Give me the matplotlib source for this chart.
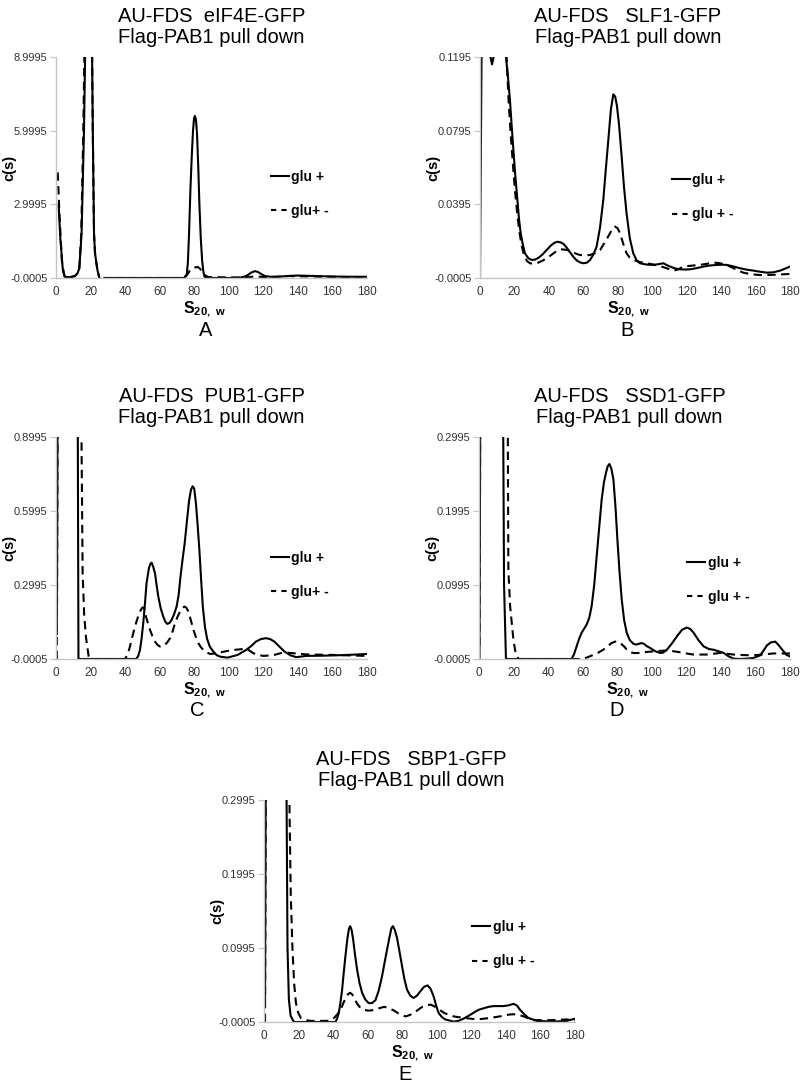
import matplotlib
matplotlib.use('Agg')
import matplotlib.pyplot as plt
from matplotlib.lines import Line2D

plt.rcParams['font.family'] = ['Liberation Sans', 'DejaVu Sans']
plt.rcParams['mathtext.fontset'] = 'custom'
plt.rcParams['mathtext.bf'] = 'Liberation Sans:bold'
plt.rcParams['mathtext.rm'] = 'Liberation Sans'

# ---- data: (s20,w , c(s)) pairs ----
# A: eIF4E-GFP
a_plus = [(1.5, 3.0), (2.5, 1.6), (4, 0.3), (5, 0.05), (8, 0.03), (11, 0.08), (12.5, 0.2), (13.5, 0.4), (14.8, 1.8),
          (16.2, 6.0), (17.5, 12), (20.5, 12), (21.3, 6.0), (22, 1.8), (22.6, 1.0), (23.9, 0.35), (25.1, 0.0),
          (26.5, -0.5), (28, 0.0), (74, 0.0), (75.6, 0.1), (76.3, 0.6), (77, 1.8), (77.8, 3.6), (78.6, 5.0),
          (79.3, 6.0), (79.9, 6.5), (80.4, 6.6), (81, 6.45), (81.6, 5.9), (82.3, 4.6), (83, 3.0), (83.8, 1.6),
          (84.6, 0.7), (85.3, 0.25), (86, 0.05), (90, 0.0), (100, 0.0), (106, 0.01), (109, 0.05), (111, 0.12),
          (113, 0.22), (115.2, 0.28), (117, 0.24), (119, 0.15), (121, 0.08), (124, 0.05), (128, 0.05), (132, 0.07),
          (136, 0.09), (140, 0.1), (145, 0.09), (150, 0.08), (160, 0.06), (170, 0.05), (180, 0.05)]
a_minus = [(1, 4.3), (2, 2.6), (3.5, 0.6), (5, 0.05), (8, 0.03), (11, 0.08), (12.5, 0.2), (13.5, 0.4), (14.6, 1.8),
           (15.8, 6.0), (17, 12), (20.5, 12), (21.3, 6.0), (22, 1.8), (22.6, 1.0), (23.9, 0.35), (25.1, 0.0),
           (26.5, -0.5), (28, 0.0), (72, 0.0), (74, 0.02), (76, 0.15), (77.5, 0.3), (79, 0.4), (80.5, 0.43),
           (82, 0.45), (83.3, 0.38), (84.5, 0.27), (86, 0.12), (88, 0.04), (95, 0.03), (105, 0.02), (110, 0.03),
           (115, 0.06), (120, 0.04), (125, 0.04), (130, 0.06), (135, 0.08), (140, 0.07), (150, 0.06), (160, 0.05),
           (170, 0.04), (180, 0.04)]

# B: SLF1-GFP
b_plus = [(0, -0.0005), (0.6, 0.08), (1.2, 0.16), (5, 0.16), (6, 0.12), (7, 0.1155), (8, 0.12), (9, 0.16), (14, 0.16),
          (15.1, 0.1195), (16.3, 0.108), (17.4, 0.096), (18.4, 0.082), (19.4, 0.069), (20.5, 0.055), (21.7, 0.042),
          (22.6, 0.032), (23.6, 0.024), (24.8, 0.018), (26.1, 0.0129), (28, 0.0103), (30, 0.0093), (32, 0.0095),
          (34, 0.0105), (36, 0.012), (38.7, 0.0147), (41, 0.017), (43, 0.0185), (45, 0.0192), (47, 0.0188),
          (48.5, 0.018), (50.5, 0.0158), (52.5, 0.0132), (54.2, 0.011), (56, 0.0092), (58, 0.008), (60, 0.0075),
          (62, 0.0078), (63.9, 0.0093), (65.8, 0.0122), (67.7, 0.0165), (69.7, 0.027), (71.6, 0.042), (73, 0.058),
          (74.5, 0.0744), (76, 0.091), (77.4, 0.0992), (78.5, 0.098), (79.5, 0.093), (80.7, 0.083), (82.2, 0.066),
          (83.6, 0.049), (85.1, 0.0346), (87, 0.021), (89, 0.0129), (91, 0.009), (92.9, 0.0075), (96.7, 0.0068),
          (100.6, 0.0066), (103.5, 0.007), (106.5, 0.0075), (108.5, 0.0065), (110.4, 0.0057), (113.3, 0.0047),
          (116.2, 0.0042), (119, 0.0041), (122, 0.0042), (126, 0.0049), (129.8, 0.0057), (133.6, 0.0063),
          (137.5, 0.0066), (140.4, 0.0067), (143.3, 0.0066), (147, 0.0058), (151, 0.0048), (155, 0.004),
          (158.8, 0.0035), (162.7, 0.0029), (166.6, 0.0024), (170.4, 0.0026), (174.2, 0.0035), (177, 0.0045),
          (180, 0.0057)]
b_minus = [(14.2, 0.16), (15.4, 0.12), (16.6, 0.096), (17.5, 0.082), (18.5, 0.069), (19.6, 0.055), (20.8, 0.042),
           (21.9, 0.032), (23, 0.0238), (24.2, 0.017), (25.5, 0.012), (27.2, 0.0088), (29, 0.0075), (31, 0.0072),
           (33, 0.0075), (36.5, 0.009), (40, 0.011), (43.5, 0.0135), (47, 0.0151), (50, 0.0148), (53, 0.014),
           (55.5, 0.0128), (58, 0.012), (61, 0.0118), (63.9, 0.012), (66.8, 0.013), (69.7, 0.0147), (72.6, 0.019),
           (75.5, 0.0238), (77, 0.0265), (78.4, 0.0274), (79.9, 0.0265), (81.3, 0.0238), (83.2, 0.018),
           (85.1, 0.0129), (87, 0.0105), (89, 0.0093), (92.8, 0.0082), (96.7, 0.0075), (100.6, 0.0068),
           (104.5, 0.006), (108.4, 0.0048), (112.3, 0.0035), (115.2, 0.0042), (118, 0.0057), (122.9, 0.0062),
           (127.7, 0.0066), (131.6, 0.0072), (135.5, 0.0079), (139.4, 0.0075), (142.3, 0.0068), (145.2, 0.0057),
           (149, 0.004), (152.9, 0.0024), (157.8, 0.0015), (162.6, 0.0011), (170, 0.0012), (180, 0.0017)]

# C: PUB1-GFP
c_plus = [(0.5, 0.1), (1.0, 1.2), (12.5, 1.2), (13.0, -0.0005), (46.3, -0.0005), (47.5, 0.01), (48.6, 0.036),
          (49.5, 0.08), (50.5, 0.145), (51.5, 0.225), (52.4, 0.307), (53.8, 0.368), (54.6, 0.385), (55.3, 0.39),
          (56.2, 0.375), (57.3, 0.347), (58.2, 0.3), (59.2, 0.253), (60.6, 0.205), (62.1, 0.171), (63.3, 0.15),
          (64.4, 0.142), (65.6, 0.145), (66.9, 0.158), (68.3, 0.18), (69.8, 0.212), (71, 0.26), (72, 0.33),
          (73.2, 0.4), (74.5, 0.47), (75.8, 0.56), (77, 0.64), (78.1, 0.685), (79.1, 0.70), (80, 0.69), (81, 0.63),
          (82, 0.54), (83, 0.44), (84, 0.32), (85, 0.21), (86.2, 0.13), (87.5, 0.08), (89, 0.05), (91, 0.03),
          (93, 0.015), (95, 0.009), (99.3, 0.005), (105.1, 0.016), (110, 0.036), (113, 0.052), (115.7, 0.07),
          (118.5, 0.08), (121.5, 0.084), (124, 0.08), (126.4, 0.07), (129, 0.052), (132.2, 0.03), (135.5, 0.015),
          (139, 0.007), (145, 0.012), (155, 0.013), (165, 0.015), (175, 0.018), (180, 0.02)]
c_minus = [(0.5, -0.0005), (1.0, 1.2), (14.4, 1.2), (15.4, 0.35), (16.3, 0.18), (17.3, 0.09), (18.9, 0.01),
           (19.5, -0.0005), (40, -0.0005), (41.5, 0.02), (42.8, 0.05), (44.2, 0.09), (45.7, 0.131), (47.2, 0.165),
           (48.6, 0.192), (49.5, 0.203), (50.2, 0.209), (51, 0.205), (52.1, 0.171), (53.2, 0.145), (54.4, 0.118),
           (55.8, 0.092), (57.3, 0.07), (58.7, 0.057), (60.2, 0.05), (61.6, 0.05), (63.1, 0.057), (64.5, 0.068),
           (66, 0.084), (67.5, 0.112), (68.9, 0.145), (70.3, 0.17), (71.8, 0.192), (73, 0.205), (74.3, 0.212),
           (75.5, 0.207), (76.6, 0.192), (78, 0.158), (79.5, 0.118), (81, 0.088), (82.4, 0.064), (83.8, 0.048),
           (85.3, 0.036), (87.2, 0.026), (89.2, 0.02), (92, 0.022), (95, 0.026), (99, 0.032), (102.6, 0.036),
           (108.4, 0.04), (111, 0.038), (114.2, 0.023), (117, 0.016), (120, 0.012), (125.8, 0.015), (131.6, 0.026),
           (137.3, 0.023), (145, 0.018), (160, 0.016), (170, 0.014), (180, 0.012)]

# D: SSD1-GFP
d_plus = [(0.3, 0.012), (0.8, 0.4), (13.8, 0.4), (14.5, 0.1), (15.6, -0.0005), (53.6, -0.0005), (55, 0.006),
          (56.5, 0.0166), (58, 0.027), (59.4, 0.035), (61, 0.041), (62.3, 0.046), (63.8, 0.055), (65.2, 0.071),
          (66.7, 0.1), (68.1, 0.138), (69.6, 0.178), (71, 0.215), (72.3, 0.238), (73.5, 0.251), (74.5, 0.26),
          (75.5, 0.263), (76.6, 0.257), (77.8, 0.242), (79, 0.205), (80.1, 0.161), (81.3, 0.118), (82.6, 0.08),
          (84, 0.052), (85.5, 0.035), (87.3, 0.025), (89.4, 0.02), (91, 0.019), (92.5, 0.02), (94, 0.021),
          (95.5, 0.02), (97, 0.017), (99, 0.0145), (102, 0.01), (104.8, 0.0077), (106.5, 0.008), (108.7, 0.012),
          (111.5, 0.02), (114.5, 0.03), (117.5, 0.039), (120.3, 0.042), (122.3, 0.04), (124.2, 0.035), (127, 0.025),
          (130, 0.0166), (133, 0.013), (135.8, 0.012), (138.5, 0.01), (141.6, 0.0077), (144.5, 0.003), (147.4, 0.0),
          (151, -0.0005), (155.1, 0.0), (159, 0.001), (162.8, 0.0045), (165, 0.012), (166.7, 0.018), (169, 0.022),
          (171.5, 0.023), (173.5, 0.018), (176.3, 0.0098), (178, 0.005), (180, 0.003)]
d_minus = [(0.3, -0.0005), (0.8, 0.4), (16.5, 0.4), (17, 0.12), (18, 0.071), (19.9, 0.026), (21, 0.01),
           (22.8, -0.0005), (60, -0.0005), (63, 0.002), (66.1, 0.005), (69, 0.008), (71.9, 0.012), (74.5, 0.017),
           (76.7, 0.021), (78.7, 0.023), (80.6, 0.023), (82.3, 0.02), (83.9, 0.0166), (85.6, 0.012), (87.4, 0.0086),
           (90, 0.0075), (93.2, 0.0077), (97, 0.009), (100.9, 0.0098), (104.8, 0.0105), (108.7, 0.011),
           (112.5, 0.01), (116.4, 0.0086), (120, 0.007), (124.1, 0.0055), (131.8, 0.0055), (135.5, 0.0065),
           (139.5, 0.0077), (143, 0.0068), (147.2, 0.0055), (153, 0.0048), (158.8, 0.0045), (164, 0.0055),
           (170.4, 0.007), (180, 0.007)]

# E: SBP1-GFP
e_plus = [(0.6, 0.03), (1.1, 0.4), (12.8, 0.4), (13.6, 0.1), (14.4, 0.03), (15.4, 0.008), (17.3, -0.0005),
          (41.4, -0.0005), (42.3, 0.004), (43.3, 0.012), (44.2, 0.025), (45.2, 0.043), (46.1, 0.065), (47.1, 0.088),
          (48.3, 0.113), (49.2, 0.126), (49.9, 0.129), (50.7, 0.124), (51.6, 0.111), (52.7, 0.09), (53.9, 0.07),
          (55.3, 0.052), (56.8, 0.039), (58.6, 0.03), (60.6, 0.025), (62.5, 0.025), (64.5, 0.029), (66.4, 0.042),
          (68.3, 0.061), (69.8, 0.08), (71.2, 0.097), (72.7, 0.115), (73.7, 0.126), (74.6, 0.129), (75.7, 0.124),
          (77, 0.113), (78.4, 0.095), (79.9, 0.075), (81.3, 0.057), (82.8, 0.043), (84.7, 0.035), (86.6, 0.032),
          (88.5, 0.035), (90.5, 0.041), (92.6, 0.047), (94.7, 0.049), (96.5, 0.044), (98.2, 0.034), (99.6, 0.022),
          (101, 0.012), (103, 0.006), (104.9, 0.003), (109.7, 0.0), (112.5, 0.001), (115.5, 0.004), (118.5, 0.008),
          (121.3, 0.012), (124.2, 0.016), (127.1, 0.018), (130, 0.02), (132.8, 0.021), (135.7, 0.021),
          (138.6, 0.021), (141.5, 0.022), (144.4, 0.024), (146.3, 0.022), (148.2, 0.016), (150.6, 0.01),
          (153, 0.005), (157.9, 0.001), (167.5, 0.0), (175.2, 0.001), (180, 0.004)]
e_minus = [(0.6, -0.0005), (1.1, 0.4), (14.4, 0.4), (14.8, 0.28), (15.5, 0.17), (16.5, 0.097), (17.5, 0.05),
           (18.5, 0.025), (19.8, 0.012), (21.3, 0.005), (24, 0.002), (27.1, 0.001), (36.7, 0.001), (38.7, 0.002),
           (40.6, 0.005), (42.5, 0.01), (44.4, 0.016), (45.9, 0.025), (47.3, 0.032), (48.6, 0.037), (49.8, 0.039),
           (51, 0.037), (52.1, 0.032), (54, 0.024), (56, 0.018), (57.9, 0.016), (59.8, 0.015), (61.8, 0.015),
           (63.7, 0.016), (66.6, 0.018), (69.5, 0.02), (71.4, 0.019), (73.3, 0.017), (75.2, 0.015), (77.2, 0.012),
           (79.6, 0.009), (82, 0.007), (84.4, 0.009), (86.8, 0.012), (89.2, 0.016), (91.6, 0.02), (94, 0.022),
           (96.4, 0.023), (98.3, 0.021), (100.3, 0.018), (102.2, 0.015), (104.1, 0.012), (107, 0.009),
           (109.9, 0.007), (115.7, 0.005), (123.4, 0.003), (127.3, 0.004), (131.1, 0.005), (135, 0.0065),
           (138.8, 0.008), (141.7, 0.0095), (144.6, 0.01), (147.5, 0.009), (150.4, 0.007), (153.3, 0.004),
           (156.2, 0.002), (165.8, 0.002), (175.4, 0.003), (180, 0.001)]

titles = ['AU-FDS  eIF4E-GFP\nFlag-PAB1 pull down',
          'AU-FDS   SLF1-GFP\nFlag-PAB1 pull down',
          'AU-FDS  PUB1-GFP\nFlag-PAB1 pull down',
          'AU-FDS   SSD1-GFP\nFlag-PAB1 pull down',
          'AU-FDS   SBP1-GFP\nFlag-PAB1 pull down']
letters = ['A', 'B', 'C', 'D', 'E']
yticks_all = [[-0.0005, 2.9995, 5.9995, 8.9995],
              [-0.0005, 0.0395, 0.0795, 0.1195],
              [-0.0005, 0.2995, 0.5995, 0.8995],
              [-0.0005, 0.0995, 0.1995, 0.2995],
              [-0.0005, 0.0995, 0.1995, 0.2995]]
minus_labels = ['glu+ -', 'glu + -', 'glu+ -', 'glu + -', 'glu + -']
xticks = list(range(0, 181, 20))

series = [(a_plus, a_minus), (b_plus, b_minus), (c_plus, c_minus), (d_plus, d_minus), (e_plus, e_minus)]

# ---- layout (pixel boxes: left, top, right, bottom) ----
W, H = 800, 1084
boxes = [(56, 57, 367, 278), (480, 57, 790, 278), (56, 437, 367, 659),
         (479, 437, 790, 659), (264, 800, 575, 1022)]
title_dx = [0, -7, 0, -5, -8]
letter_dx = [-6, -8, -14, -18, -14]
legend_pos = [(0.69, 0.38), (0.62, 0.365), (0.69, 0.38), (0.67, 0.355), (0.67, 0.35)]

fig = plt.figure(figsize=(W / 100, H / 100), dpi=100)
dash = (0, (4, 2.6))
spine_col = '#c4c4c4'

for i, (l, t, r, b) in enumerate(boxes):
    ax = fig.add_axes([l / W, 1 - b / H, (r - l) / W, (b - t) / H])
    plus, minus = series[i]
    px, py = zip(*plus)
    mx, my = zip(*minus)
    ax.plot(mx, my, color='black', lw=1.5, linestyle=dash)
    ax.plot(px, py, color='black', lw=1.5)
    yt = yticks_all[i]
    ax.set_xlim(0, 180)
    ax.set_ylim(yt[0], yt[-1])
    ax.set_xticks(xticks)
    ax.set_yticks(yt)
    ax.set_yticklabels([f'{v:.4f}' for v in yt])
    for s in ['top', 'right']:
        ax.spines[s].set_visible(False)
    for s in ['left', 'bottom']:
        ax.spines[s].set_color(spine_col)
        ax.spines[s].set_linewidth(1.0)
    ax.tick_params(axis='x', length=0, pad=6, labelsize=8.5, colors='#333333')
    ax.tick_params(axis='y', length=4, width=0.8, color=spine_col, pad=2, labelsize=8, labelcolor='#333333')

    ax.set_ylabel('c(s)', fontsize=10.5, fontweight='bold', va='center', ha='center')
    ax.yaxis.set_label_coords(-47 / (r - l), 0.5)
    ax.set_xlabel(r'$\mathbf{S}_{\mathbf{20,\ w}}$', fontsize=11.5, va='center')
    ax.xaxis.set_label_coords(0.5 - 7 / (r - l), -31 / (b - t))

    cx = (l + r) / 2
    fig.text((cx + title_dx[i]) / W, 1 - (t - 30) / H, titles[i], ha='center', va='center',
             fontsize=14.5, linespacing=1.1)
    fig.text((cx + letter_dx[i]) / W, 1 - (b + 52) / H, letters[i], ha='center', va='center', fontsize=14.5)

    handles = [Line2D([], [], color='black', lw=1.5),
               Line2D([], [], color='black', lw=1.5, linestyle=(0, (2.5, 2.5)))]
    ax.legend(handles, ['glu +', minus_labels[i]], loc='center left', bbox_to_anchor=legend_pos[i],
              frameon=False, handlelength=1.3, handletextpad=0.15, labelspacing=1.45, borderpad=0,
              borderaxespad=0, prop={'weight': 'bold', 'size': 10})

fig.savefig('out.png', dpi=100)
